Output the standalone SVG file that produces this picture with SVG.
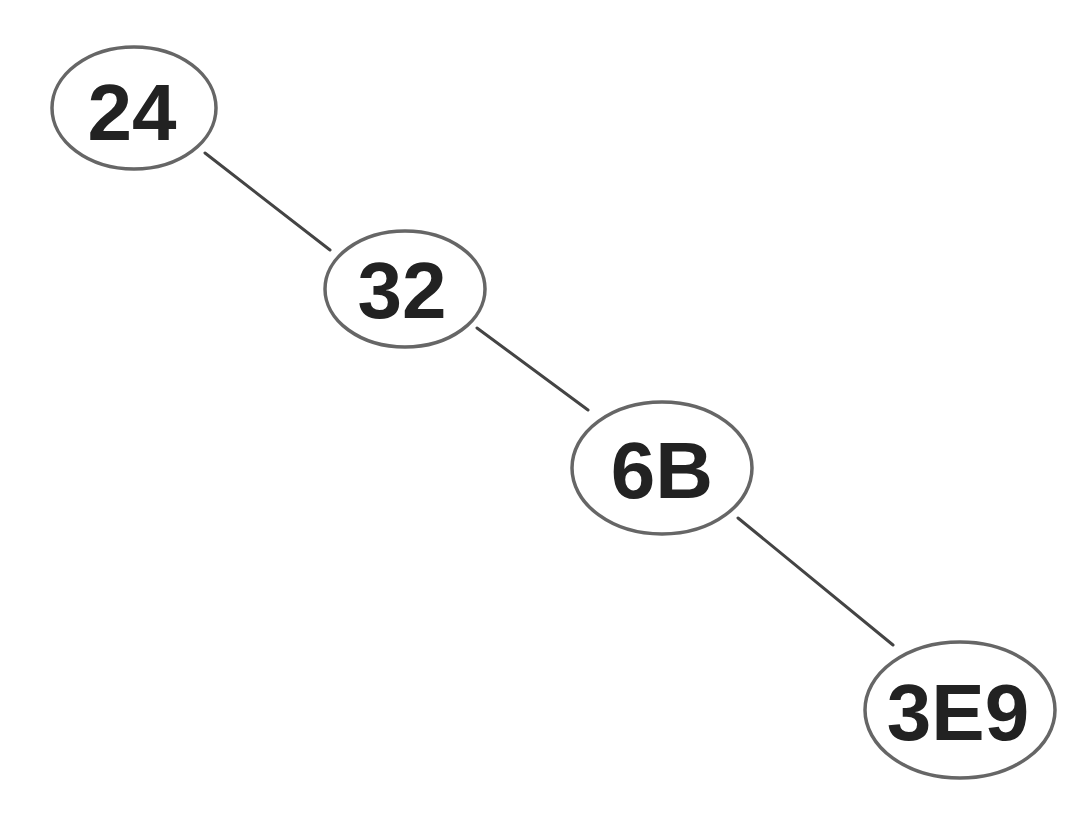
<svg xmlns="http://www.w3.org/2000/svg" width="1088" height="832" viewBox="0 0 1088 832">
<style>
.node ellipse{fill:#fff;stroke:#666;stroke-width:3.5}
.node text{font-family:"Liberation Sans",Arial,sans-serif;font-weight:bold;font-size:80px;fill:#222;text-anchor:middle;dominant-baseline:central}
.edges line{stroke:#444;stroke-width:3;stroke-linecap:round}
</style>
<rect width="1088" height="832" fill="#fff"/>
<g class="edges">
<line x1="205" y1="153" x2="330" y2="250"/>
<line x1="477" y1="328" x2="588" y2="410"/>
<line x1="738" y1="518" x2="893" y2="645"/>
</g>
<g id="n24" class="node"><ellipse cx="134" cy="108" rx="82" ry="61"/><text x="132" y="112">24</text></g>
<g id="n32" class="node"><ellipse cx="405" cy="289" rx="80" ry="58"/><text x="402" y="290">32</text></g>
<g id="n6B" class="node"><ellipse cx="662" cy="468" rx="90" ry="66"/><text x="662" y="470">6B</text></g>
<g id="n3E9" class="node"><ellipse cx="960" cy="710" rx="95" ry="68"/><text x="958" y="712">3E9</text></g>
</svg>
